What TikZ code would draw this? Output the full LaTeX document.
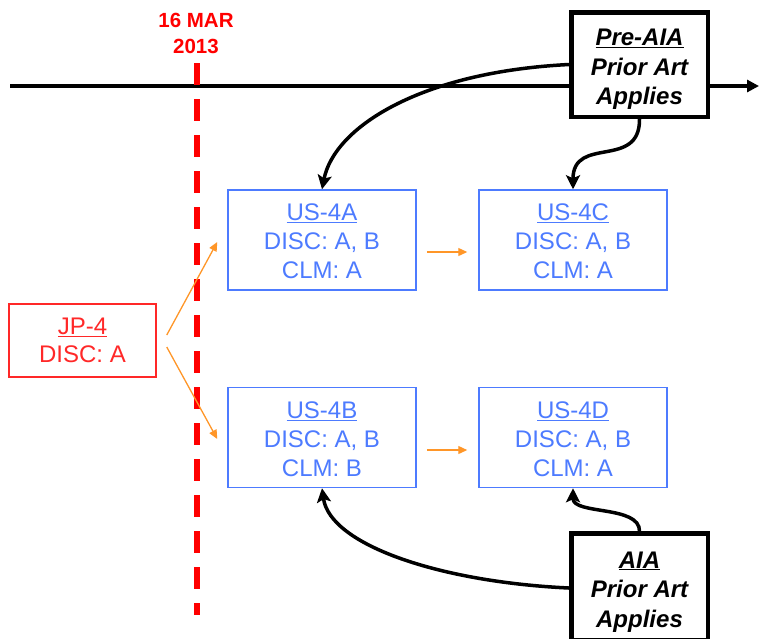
\documentclass[tikz,border=0pt]{standalone}
\usepackage{fontspec}
\setmainfont{Liberation Sans}
\usetikzlibrary{arrows.meta}
\definecolor{usblue}{RGB}{77,123,255}
\definecolor{jpred}{RGB}{255,40,40}
\definecolor{datered}{RGB}{255,0,0}
\definecolor{arrorange}{RGB}{255,150,40}
\begin{document}
\begin{tikzpicture}[x=1pt,y=-1pt,
  usbox/.style={draw=usblue, line width=1.5pt, text=usblue, fill=white,
    minimum width=188pt, minimum height=100pt, inner sep=0pt, align=center,
    font=\fontsize{24}{29}\selectfont},
  jpbox/.style={draw=jpred, line width=1.5pt, text=jpred, fill=white,
    minimum width=147pt, minimum height=73pt, inner sep=0pt, align=center,
    font=\fontsize{24}{28.5}\selectfont},
  artbox/.style={draw=black, line width=4.5pt, fill=white,
    minimum width=136.5pt, inner sep=0pt, align=center,
    font=\fontsize{24}{29.5}\selectfont\bfseries\itshape},
  timeline/.style={line width=4pt, -{Triangle[length=12pt,width=12pt]}},
  dateline/.style={datered, line width=6pt, dash pattern=on 22pt off 14pt},
  orangearrow/.style={arrorange, line width=1.3pt, -{Triangle[length=9pt,width=8pt]}},
  blackarrow/.style={line width=3.5pt, -{Stealth[length=14pt,width=14pt,inset=3pt]}},
  datelabel/.style={text=datered, align=center, inner sep=0pt,
    font=\fontsize{20.5}{26}\selectfont\bfseries}
]
\useasboundingbox (0,0) rectangle (759,638);

% timeline
\coordinate (tlstart) at (10,86);
\coordinate (tlend) at (759,86);
\draw[timeline] (tlstart) -- (tlend);

% date line
\coordinate (dtop) at (197,63);
\coordinate (dbot) at (197,615);
\draw[dateline] (dtop) -- (dbot);
\node[datelabel] (date) at (196,33.5) {16 MAR\\2013};

% boxes
\node[jpbox] (jp) at (82.5,340.5) {\underline{JP-4}\\DISC: A};
\node[usbox] (usa) at (322,240) {\rule{0pt}{20pt}\underline{US-4A}\\DISC: A, B\\CLM: A};
\node[usbox] (usb) at (322,437.5) {\rule{0pt}{20pt}\underline{US-4B}\\DISC: A, B\\CLM: B};
\node[usbox] (usc) at (573,240) {\rule{0pt}{20pt}\underline{US-4C}\\DISC: A, B\\CLM: A};
\node[usbox] (usd) at (573,437.5) {\rule{0pt}{20pt}\underline{US-4D}\\DISC: A, B\\CLM: A};

\node[artbox, minimum height=104.5pt] (pre) at (639.5,64.5) {\rule{0pt}{26pt}\underline{Pre-AIA}\\Prior Art\\Applies};
\node[artbox, minimum height=107pt] (aia) at (639.5,587) {\rule{0pt}{26pt}\underline{AIA}\\Prior Art\\Applies};

% orange arrows
\draw[orangearrow] ([xshift=10pt,yshift=5.5pt]jp.east) -- ([xshift=-10pt,yshift=-2pt]usa.west);
\draw[orangearrow] ([xshift=10pt,yshift=-6.5pt]jp.east) -- ([xshift=-10pt,yshift=-1.5pt]usb.west);
\draw[orangearrow] ([xshift=10pt,yshift=-12pt]usa.east) -- ([xshift=-11pt,yshift=-12pt]usc.west);
\draw[orangearrow] ([xshift=10pt,yshift=-12.5pt]usb.east) -- ([xshift=-11pt,yshift=-12.5pt]usd.west);

% black curved arrows
\draw[blackarrow] (pre.west) .. controls (419,72) and (334,128) .. (usa.north);
\draw[blackarrow] (pre.south) .. controls (640,170) and (573,135) .. (usc.north);
\draw[blackarrow] ([yshift=-1pt]aia.west) .. controls (440,582) and (330,545) .. (usb.south);
\draw[blackarrow] (aia.north) .. controls (640,505) and (573,515) .. (usd.south);
\end{tikzpicture}
\end{document}
